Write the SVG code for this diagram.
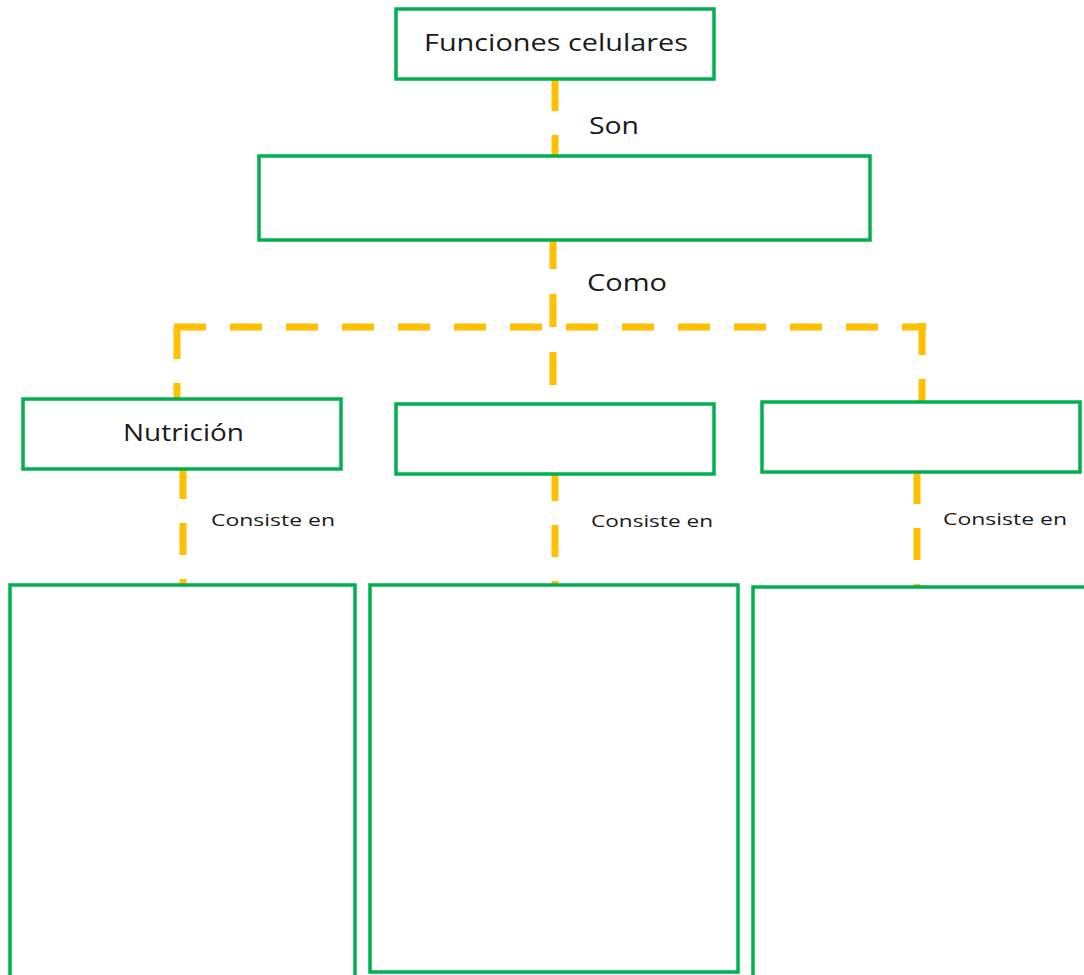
<svg xmlns="http://www.w3.org/2000/svg" width="1084" height="975" viewBox="0 0 1084 975">
  <style>
    .box { fill: #ffffff; stroke: #00b050; stroke-width: 3.5; }
    .link { fill: none; stroke: #ffc000; stroke-width: 7; stroke-dasharray: 32 24; }
    .t { font-family: "Open Sans", "Liberation Sans", sans-serif; fill: #1a1a1a; }
    .big { font-size: 24px; }
    .small { font-size: 17px; }
  </style>
  <rect width="1084" height="975" fill="#ffffff"/>

  <!-- connectors -->
  <g id="connectors">
    <path class="link" d="M555,79 V156"/>
    <path class="link" d="M553,240 V404" style="stroke-dashoffset:4; stroke-dasharray:33 25"/>
    <path class="link" d="M174,327 H926"/>
    <path class="link" d="M177,327 V400"/>
    <path class="link" d="M922,323 V402"/>
    <path class="link" d="M183,467 V584"/>
    <path class="link" d="M555,469 V584"/>
    <path class="link" d="M917,472 V587"/>
    <text class="t big" x="589" y="134" textLength="50" lengthAdjust="spacingAndGlyphs">Son</text>
    <text class="t big" x="587" y="291" textLength="80" lengthAdjust="spacingAndGlyphs">Como</text>
    <text class="t small" x="211" y="526" textLength="124" lengthAdjust="spacingAndGlyphs">Consiste en</text>
    <text class="t small" x="591" y="527" textLength="122" lengthAdjust="spacingAndGlyphs">Consiste en</text>
    <text class="t small" x="943" y="525" textLength="124" lengthAdjust="spacingAndGlyphs">Consiste en</text>
  </g>

  <g id="funciones">
    <rect class="box" x="396" y="9" width="318" height="70"/>
    <text class="t big" x="424" y="51" textLength="264" lengthAdjust="spacingAndGlyphs">Funciones celulares</text>
  </g>

  <g id="tipos">
    <rect class="box" x="259" y="156" width="611" height="84"/>
  </g>

  <g id="nutricion">
    <rect class="box" x="23" y="399" width="318" height="70"/>
    <text class="t big" x="123" y="441" textLength="121" lengthAdjust="spacingAndGlyphs">Nutrición</text>
  </g>

  <g id="funcion-2">
    <rect class="box" x="396" y="404" width="318" height="70"/>
  </g>

  <g id="funcion-3">
    <rect class="box" x="762" y="402" width="318" height="70"/>
  </g>

  <g id="detalle-1">
    <rect class="box" x="10" y="585" width="345" height="400"/>
  </g>

  <g id="detalle-2">
    <rect class="box" x="370" y="585" width="368" height="387"/>
  </g>

  <g id="detalle-3">
    <rect class="box" x="753" y="587" width="345" height="400"/>
  </g>
</svg>
